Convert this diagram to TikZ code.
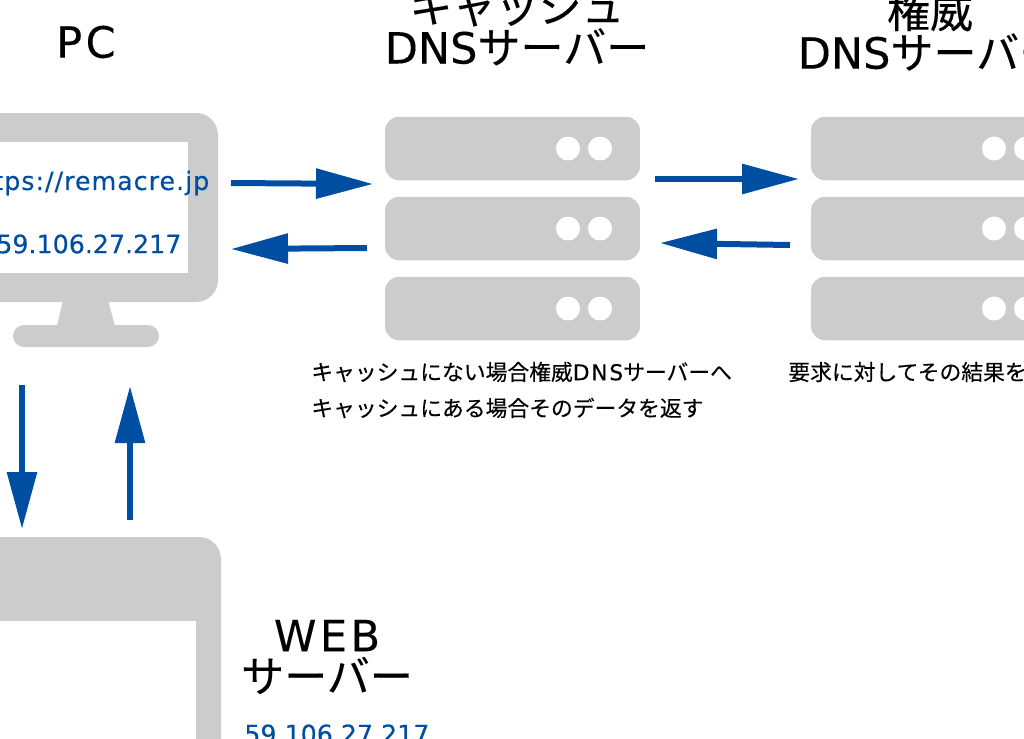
\documentclass[tikz,border=0pt]{standalone}
\usepackage{fontspec}
\setmainfont{Noto Sans CJK JP}[FakeBold=0.25]
\newfontfamily\lat{DejaVu Sans}[FakeBold=0.25]
\newfontfamily\latwide{DejaVu Sans}[FakeBold=0.25,LetterSpace=8]
\usetikzlibrary{arrows.meta}
\definecolor{srvgray}{HTML}{CCCCCC}
\definecolor{netblue}{HTML}{004EA2}
\tikzset{
 unit/.style={draw=none,fill=srvgray,rounded corners=0.28cm,inner sep=0pt,minimum width=5.1cm,minimum height=1.27cm},
 lamp/.style={draw=none,fill=white,circle,inner sep=0pt,minimum size=0.48cm},
 title/.style={align=center,inner sep=0pt,font=\fontsize{24.5}{23.3}\selectfont},
 note/.style={anchor=west,inner sep=0pt,font=\fontsize{12.4}{14}\selectfont},
 addr/.style={anchor=west,inner sep=0pt,text=netblue,font=\lat\fontsize{14.4}{16}\selectfont},
 flow/.style={draw=netblue,line width=0.12cm,-{Triangle[length=1.14cm,width=0.58cm]}}
}
\begin{document}
\begin{tikzpicture}[x=0.02cm,y=-0.02cm]
\useasboundingbox (0,0) rectangle (1024,738);
\clip (0,0) rectangle (1024,738);
% pc
\fill[srvgray,rounded corners=0.44cm] (-60,113) rectangle (218,302);
\fill[white] (-60,142) rectangle (188,273);
\fill[srvgray] (63,300) -- (108,300) -- (115,326) -- (57,326) -- cycle;
\fill[srvgray,rounded corners=0.22cm] (13,325) rectangle (159,347);
% web server
\fill[srvgray,rounded corners=0.44cm] (-60,537) rectangle (221,800);
\fill[white] (-60,621) rectangle (196,800);
% dns servers
\foreach \n/\x in {cache/512.5,auth/938.5}{
 \foreach \m/\y in {a/148.5,b/228.5,c/308.5}{
  \node[unit] (\n\m) at (\x,\y) {};
  \node[lamp] (\n\m l) at (\x+55.5,\y) {};
  \node[lamp] (\n\m r) at (\x+87.5,\y) {};
 }
}
\node[title] (pc) at (86,42) {\latwide PC};
\node[title] (cachename) at (517,27) {キャッシュ\\{\lat DNS}サーバー};
\node[title] (authname) at (930,31) {権威\\{\lat DNS}サーバー};
\node[title] (webname) at (327,657) {{\latwide WEB}\\サーバー};
\node[addr] (url) at (-35,183) {\addfontfeatures{LetterSpace=4}https://remacre.jp};
\node[addr] (pcip) at (-4,244) {59.106.27.217};
\node[addr] (webip) at (244,734) {59.106.27.217};
\node[note] (noteone) at (311,372) {キャッシュにない場合権威{\latwide DNS}サーバーへ};
\node[note] (notetwo) at (311,408) {キャッシュにある場合そのデータを返す};
\node[note] (notethree) at (788,372) {要求に対してその結果を};
\coordinate (pcouta) at (231,183);
\coordinate (cacheina) at (373,184);
\coordinate (cacheouta) at (367,248);
\coordinate (pcina) at (231,249);
\coordinate (cacheoutb) at (655,179);
\coordinate (authina) at (799,179);
\coordinate (authouta) at (790,245);
\coordinate (cacheinb) at (660,243);
\coordinate (pcoutb) at (22,385);
\coordinate (webina) at (22,529);
\coordinate (weboutb) at (130,520);
\coordinate (pcinb) at (130,386);
\draw[flow] (pcouta) -- (cacheina);
\draw[flow] (cacheouta) -- (pcina);
\draw[flow] (cacheoutb) -- (authina);
\draw[flow] (authouta) -- (cacheinb);
\draw[flow] (pcoutb) -- (webina);
\draw[flow] (weboutb) -- (pcinb);
\end{tikzpicture}
\end{document}
